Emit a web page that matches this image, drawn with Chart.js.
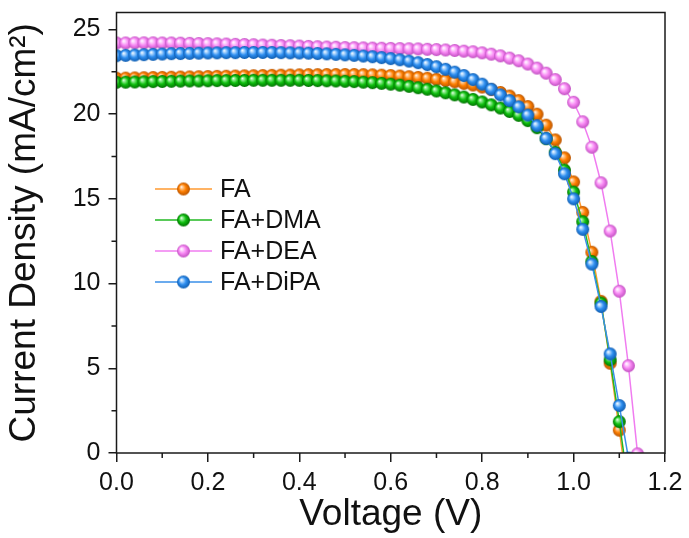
<!DOCTYPE html>
<html><head><meta charset="utf-8">
<script src="https://cdn.jsdelivr.net/npm/chart.js@4.4.0/dist/chart.umd.min.js"></script>
<style>html,body{margin:0;padding:0;background:#fff}#wrap{width:689px;height:538px;position:relative}</style>
</head><body><div id="wrap"><canvas id="c"></canvas></div>
<script>
// ---- data ----
const voltage = [0.00,0.02,0.04,0.06,0.08,0.10,0.12,0.14,0.16,0.18,0.20,0.22,0.24,0.26,0.28,0.30,0.32,0.34,0.36,0.38,0.40,0.42,0.44,0.46,0.48,0.50,0.52,0.54,0.56,0.58,0.60,0.62,0.64,0.66,0.68,0.70,0.72,0.74,0.76,0.78,0.80,0.82,0.84,0.86,0.88,0.90,0.92,0.94,0.96,0.98,1.00,1.02,1.04,1.06,1.08,1.10,1.12,1.14];
const seriesNames = ['FA','FA+DMA','FA+DEA','FA+DiPA'];
const jFA   = [22.12,22.13,22.14,22.15,22.16,22.17,22.18,22.19,22.20,22.21,22.22,22.23,22.24,22.25,22.26,22.27,22.28,22.29,22.30,22.31,22.32,22.33,22.33,22.34,22.34,22.34,22.34,22.33,22.32,22.30,22.28,22.25,22.21,22.17,22.12,22.06,21.99,21.91,21.82,21.72,21.60,21.45,21.28,21.07,20.80,20.45,20.00,19.35,18.48,17.42,16.00,14.20,11.85,8.95,5.30,1.35,-2.60];
const jDMA  = [21.88,21.89,21.90,21.91,21.92,21.93,21.94,21.95,21.96,21.96,21.97,21.98,21.98,21.99,21.99,22.00,22.00,22.00,22.00,22.00,22.00,21.99,21.98,21.97,21.96,21.94,21.92,21.89,21.86,21.82,21.77,21.71,21.64,21.56,21.47,21.37,21.26,21.14,21.01,20.87,20.72,20.55,20.36,20.16,19.93,19.62,19.20,18.55,17.75,16.70,15.40,13.65,11.30,8.85,5.50,1.85,-2.00];
const jDEA  = [24.20,24.20,24.21,24.21,24.21,24.20,24.20,24.19,24.18,24.17,24.16,24.15,24.14,24.12,24.11,24.10,24.08,24.07,24.05,24.04,24.02,24.00,23.98,23.96,23.95,23.93,23.92,23.91,23.90,23.89,23.88,23.87,23.86,23.85,23.83,23.81,23.79,23.76,23.72,23.68,23.62,23.54,23.44,23.31,23.15,22.96,22.72,22.42,22.04,21.50,20.70,19.55,18.05,15.95,13.10,9.55,5.15,-0.05];
const jDiPA = [23.45,23.47,23.49,23.51,23.53,23.55,23.57,23.58,23.59,23.60,23.61,23.62,23.63,23.63,23.64,23.64,23.64,23.64,23.63,23.62,23.61,23.60,23.58,23.56,23.53,23.50,23.47,23.43,23.39,23.34,23.28,23.21,23.13,23.04,22.93,22.80,22.65,22.48,22.28,22.04,21.77,21.47,21.14,20.80,20.43,19.95,19.32,18.57,17.67,16.48,15.00,13.20,11.15,8.65,5.85,2.80,-0.30];
const xTickValues = [0.0,0.2,0.4,0.6,0.8,1.0,1.2];
const xMinorValues = [0.1,0.3,0.5,0.7,0.9,1.1];
const yTickValues = [0,5,10,15,20,25];
const yMinorValues = [2.5,7.5,12.5,17.5,22.5];

// ---- styles ----
const FONT = '"Liberation Sans", Arial, sans-serif';
const palette = [
  {line:'#FF9A30', base:'#FF7F00', light:'#FFD0A0', dark:'#B85400'},
  {line:'#22B822', base:'#10C010', light:'#A0F0A0', dark:'#007000'},
  {line:'#F07CF0', base:'#F888F4', light:'#FFE0FF', dark:'#C050C0'},
  {line:'#3A8FE8', base:'#2F8FF0', light:'#C0E0FF', dark:'#0E5CB0'}
];
function makeBall(p, r) {
  const s = Math.ceil(2 * r + 2);
  const cv = document.createElement('canvas');
  cv.width = s; cv.height = s;
  const g = cv.getContext('2d');
  const c = s / 2;
  const grad = g.createRadialGradient(c - 0.35 * r, c - 0.35 * r, 0, c, c, r);
  grad.addColorStop(0, '#ffffff');
  grad.addColorStop(0.18, p.light);
  grad.addColorStop(0.55, p.base);
  grad.addColorStop(1, p.dark);
  g.fillStyle = grad;
  g.beginPath(); g.arc(c, c, r, 0, Math.PI * 2); g.fill();
  return cv;
}
const balls = palette.map(p => makeBall(p, 6.5));
const seriesData = [jFA, jDMA, jDEA, jDiPA];
const drawOrder = [4, 3, 2, 1];

const datasets = seriesData.map((arr, i) => ({
  label: seriesNames[i],
  data: arr.map((y, k) => ({x: voltage[k], y: y})),
  borderColor: palette[i].line,
  backgroundColor: palette[i].base,
  borderWidth: 1.5,
  pointStyle: balls[i],
  pointRadius: 6.5,
  pointHoverRadius: 6.5,
  tension: 0,
  order: drawOrder[i]
}));

const frameAndExtras = {
  id: 'frameAndExtras',
  afterDraw(chart) {
    const ctx = chart.ctx;
    const a = chart.chartArea;
    const xs = chart.scales.x, ys = chart.scales.y;
    ctx.save();
    ctx.strokeStyle = '#1a1a1a';
    ctx.lineWidth = 1.5;
    ctx.strokeRect(a.left, a.top, a.right - a.left, a.bottom - a.top);
    ctx.beginPath();
    xMinorValues.forEach(v => {
      const px = xs.getPixelForValue(v);
      ctx.moveTo(px, a.bottom); ctx.lineTo(px, a.bottom + 5);
    });
    yMinorValues.forEach(v => {
      const py = ys.getPixelForValue(v);
      ctx.moveTo(a.left - 5, py); ctx.lineTo(a.left, py);
    });
    ctx.stroke();
    // legend
    ctx.font = '25px ' + FONT;
    ctx.textBaseline = 'middle';
    ctx.textAlign = 'left';
    seriesNames.forEach((name, i) => {
      const y = 189 + i * 31;
      ctx.strokeStyle = palette[i].line;
      ctx.lineWidth = 1.5;
      ctx.beginPath(); ctx.moveTo(155, y); ctx.lineTo(212, y); ctx.stroke();
      ctx.drawImage(balls[i], 183.5 - balls[i].width / 2, y - balls[i].height / 2);
      ctx.fillStyle = '#111';
      ctx.fillText(name, 220, y + 1);
    });
    ctx.restore();
  }
};

new Chart(document.getElementById('c'), {
  type: 'line',
  data: {datasets},
  options: {
    responsive: true,
    maintainAspectRatio: false,
    animation: false,
    devicePixelRatio: 1,
    layout: {padding: {left: 0, right: 24, top: 12.5, bottom: 0}},
    plugins: {legend: {display: false}, tooltip: {enabled: false}},
    scales: {
      x: {
        type: 'linear', min: 0, max: 1.2,
        afterBuildTicks: s => { s.ticks = xTickValues.map(v => ({value: v})); },
        afterFit: s => { s.height = 85; s.paddingLeft = 0; s.paddingRight = 0; },
        ticks: {font: {family: FONT, size: 25}, color: '#111', padding: 6, maxRotation: 0,
                callback: v => Number(v).toFixed(1)},
        grid: {display: true, drawOnChartArea: false, drawTicks: true, tickLength: 9, color: '#1a1a1a', lineWidth: 1.5},
        border: {display: false},
        title: {display: true, text: 'Voltage (V)', font: {family: FONT, size: 37}, color: '#111', padding: {top: 0, bottom: 1}}
      },
      y: {
        type: 'linear', min: 0, max: 26,
        afterBuildTicks: s => { s.ticks = yTickValues.map(v => ({value: v})); },
        afterFit: s => { s.width = 116.5; s.paddingTop = 0; s.paddingBottom = 0; },
        ticks: {font: {family: FONT, size: 25}, color: '#111', padding: 8,
                callback: v => String(v)},
        grid: {display: true, drawOnChartArea: false, drawTicks: true, tickLength: 8, color: '#1a1a1a', lineWidth: 1.5},
        border: {display: false},
        title: {display: true, text: 'Current Density (mA/cm²)', font: {family: FONT, size: 37}, color: '#111', padding: {top: 3, bottom: 0}}
      }
    }
  },
  plugins: [frameAndExtras]
});
</script></body></html>
